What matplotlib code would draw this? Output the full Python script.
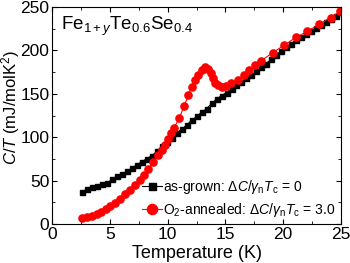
import numpy as np
import matplotlib
matplotlib.use("Agg")
import matplotlib.pyplot as plt
from matplotlib.ticker import MultipleLocator

plt.rcParams['font.family'] = ['Liberation Sans', 'DejaVu Sans']
plt.rcParams['mathtext.fontset'] = 'custom'
plt.rcParams['mathtext.rm'] = 'Liberation Sans'
plt.rcParams['mathtext.it'] = 'Liberation Sans:italic'
plt.rcParams['mathtext.bf'] = 'Liberation Sans:bold'

# as-grown (black squares)
T_grown = [2.62, 3.05, 3.49, 3.92, 4.35, 4.78, 5.21, 5.64, 6.07, 6.5, 6.93, 7.36, 7.79,
           8.22, 8.65, 9.08, 9.51, 9.94, 10.37, 10.8, 11.23, 11.66, 12.09, 12.52, 12.95,
           13.38, 13.81, 14.24, 14.67, 15.1, 15.53, 15.96, 16.39, 16.82, 17.25, 17.68,
           18.11, 18.54, 18.97, 19.4, 19.83, 20.26, 20.69, 21.12, 21.55, 21.98, 22.41,
           22.84, 23.27, 23.7, 24.13, 24.56, 24.99]
CT_grown = [37.5, 40, 42.3, 44, 45.8, 47.8, 51.5, 55, 58, 61, 64.5, 68.5, 72,
            75.5, 79, 84, 89.5, 94.5, 99.5, 105, 109.5, 114, 120, 124, 129,
            133, 139, 144, 148, 151.5, 156, 160.5, 164, 168, 172, 176,
            180.5, 185, 190, 195, 199.5, 204, 208, 212, 215.5, 219, 222.5,
            226, 229.5, 233, 236.5, 240, 244]

# O2-annealed (red circles)
T_ann = [2.62, 3.0, 3.43, 3.86, 4.24, 4.64, 5.02, 5.45, 5.88, 6.31, 6.75, 7.18, 7.61,
         7.96, 8.33, 8.76, 9.2, 9.49, 9.78, 10.06, 10.3, 10.55, 11.0, 11.42, 11.8, 12.08,
         12.37, 12.66, 12.95, 13.24, 13.52, 13.73, 13.9, 14.1, 14.39, 14.68, 15.03,
         15.5, 16.06, 16.6, 17.07, 17.56, 18.05, 19.09, 20.07, 21.1, 22.09, 23.1,
         24.1, 24.95]
CT_ann = [6.5, 8, 9.6, 11.9, 14.2, 17.3, 20.7, 24.6, 28.8, 34.2, 39, 45, 50.7,
          57, 64, 71.8, 79.5, 85, 91, 98, 104.5, 111, 121.7, 136, 148.6, 158,
          166, 171.6, 177.4, 181, 178.6, 173.6, 167.8, 163, 160, 158, 159,
          162, 166, 171.7, 177.4, 183, 187.8, 197.4, 206, 215, 222, 230,
          238, 245]

fig = plt.figure(figsize=(3.5, 2.63), dpi=100)
ax = fig.add_axes([0.149, 0.148, 0.825, 0.825])

ax.plot(T_grown, CT_grown, '-s', color='black', lw=0.8, ms=3.6,
        label=r'as-grown: $\Delta C/\gamma_\mathrm{n}T_\mathrm{c}$ = 0')
ax.plot(T_ann, CT_ann, '-o', color='red', lw=0.8, ms=5.2,
        label=r'O$_2$-annealed: $\Delta C/\gamma_\mathrm{n}T_\mathrm{c}$ = 3.0')

ax.set_xlim(0, 25)
ax.set_ylim(0, 250)
ax.xaxis.set_major_locator(MultipleLocator(5))
ax.xaxis.set_minor_locator(MultipleLocator(2.5))
ax.yaxis.set_major_locator(MultipleLocator(50))
ax.yaxis.set_minor_locator(MultipleLocator(25))
ax.tick_params(which='both', direction='in', top=True, right=True, labelsize=12.5, pad=2)
ax.tick_params(which='major', length=3.5)
ax.tick_params(which='minor', length=2)

ax.set_xlabel('Temperature (K)', fontsize=13, labelpad=2)
ax.set_ylabel(r'$C/T$ (mJ/molK$^2$)', fontsize=12)
ax.yaxis.set_label_coords(-0.106, 0.54)

ax.text(0.03, 0.91, r'Fe$_{1+y}$Te$_{0.6}$Se$_{0.4}$', transform=ax.transAxes,
        fontsize=13.5, va='center', ha='left')

ax.legend(loc='lower right', frameon=False, fontsize=10, markerscale=1.4,
          handlelength=1.4, handletextpad=0.1, borderaxespad=0.1,
          labelspacing=0.35, borderpad=0.3)

fig.savefig('out.png', dpi=100)
